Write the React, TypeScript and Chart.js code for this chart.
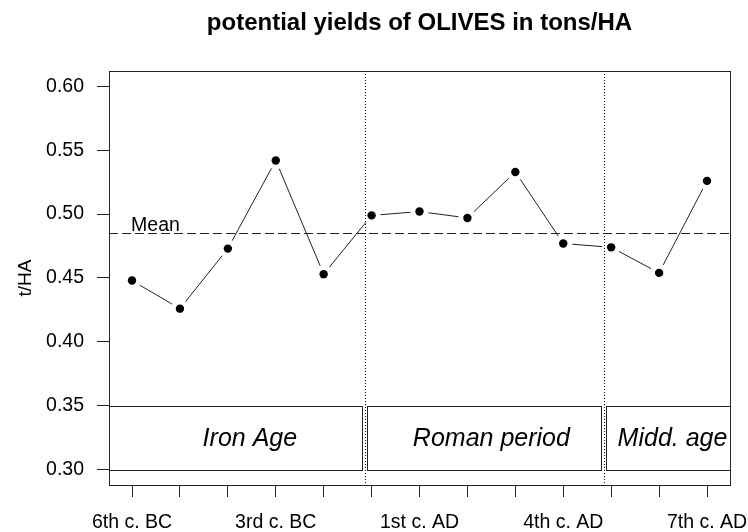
import React, { useEffect, useRef } from "react";
import { Chart, registerables } from "chart.js";

Chart.register(...registerables);

// ---------- data ----------
const centuries = [
  "6th c. BC", "5th c. BC", "4th c. BC", "3rd c. BC", "2nd c. BC", "1st c. BC",
  "1st c. AD", "2nd c. AD", "3rd c. AD", "4th c. AD", "5th c. AD", "6th c. AD", "7th c. AD",
];
const yields = [0.448, 0.426, 0.473, 0.542, 0.453, 0.499, 0.502, 0.497, 0.533, 0.477, 0.474, 0.454, 0.526];
const yTicks = [0.3, 0.35, 0.4, 0.45, 0.5, 0.55, 0.6];
const periodNames = ["Iron Age", "Roman period", "Midd. age"];
const periodFrom = [0, 5.91, 10.9];
const periodTo = [5.8, 10.79, 14];
const periodLabelX = [3.46, 8.5, 12.28];
const periodBottom = 0.3;
const periodTop = 0.35;
const dividers = [5.855, 10.845];
const meanValue = yields.reduce((a, b) => a + b, 0) / yields.length;

const TITLE = "potential yields of OLIVES in tons/HA";
const FAMILY = "'Liberation Sans', Arial, Helvetica, sans-serif";
const INK = "#222";

const decorPlugin = {
  id: "decor",
  beforeDatasetsDraw(chart: any) {
    const { ctx, chartArea: a, scales } = chart;
    const xs = scales.x;
    const ys = scales.y;
    ctx.save();
    ctx.beginPath();
    ctx.rect(a.left, a.top, a.right - a.left, a.bottom - a.top);
    ctx.clip();

    // period boxes
    ctx.strokeStyle = INK;
    ctx.lineWidth = 1;
    ctx.setLineDash([]);
    const yT = Math.round(ys.getPixelForValue(periodTop)) + 0.5;
    const yB = Math.round(ys.getPixelForValue(periodBottom)) + 0.5;
    for (let i = 0; i < periodNames.length; i++) {
      const x0 = Math.round(xs.getPixelForValue(periodFrom[i])) + 0.5;
      const x1 = Math.round(xs.getPixelForValue(periodTo[i])) + 0.5;
      ctx.strokeRect(x0, yT, x1 - x0, yB - yT);
      ctx.fillStyle = "#000";
      ctx.font = `italic 25px ${FAMILY}`;
      ctx.textAlign = "center";
      ctx.textBaseline = "middle";
      ctx.fillText(
        periodNames[i],
        xs.getPixelForValue(periodLabelX[i]),
        ys.getPixelForValue((periodTop + periodBottom) / 2) + 1
      );
    }

    // dividers (dotted)
    ctx.setLineDash([1, 2]);
    ctx.strokeStyle = "#000";
    for (const d of dividers) {
      const x = Math.round(xs.getPixelForValue(d)) + 0.5;
      ctx.beginPath();
      ctx.moveTo(x, a.top);
      ctx.lineTo(x, a.bottom);
      ctx.stroke();
    }

    // mean line (dashed)
    ctx.setLineDash([9, 4]);
    ctx.strokeStyle = INK;
    const ym = Math.round(ys.getPixelForValue(meanValue)) + 0.5;
    ctx.beginPath();
    ctx.moveTo(a.left, ym);
    ctx.lineTo(a.right, ym);
    ctx.stroke();
    ctx.setLineDash([]);
    ctx.fillStyle = "#000";
    ctx.font = `19.5px ${FAMILY}`;
    ctx.textAlign = "left";
    ctx.textBaseline = "alphabetic";
    ctx.fillText("Mean", xs.getPixelForValue(0.98), ym - 2.5);

    // segments with gaps (type "b")
    const meta = chart.getDatasetMeta(0);
    const gap = 9;
    ctx.strokeStyle = INK;
    ctx.lineWidth = 1;
    for (let i = 0; i < meta.data.length - 1; i++) {
      const p0 = meta.data[i];
      const p1 = meta.data[i + 1];
      const dx = p1.x - p0.x;
      const dy = p1.y - p0.y;
      const len = Math.hypot(dx, dy);
      if (len <= 2 * gap) continue;
      const ux = dx / len;
      const uy = dy / len;
      ctx.beginPath();
      ctx.moveTo(p0.x + ux * gap, p0.y + uy * gap);
      ctx.lineTo(p1.x - ux * gap, p1.y - uy * gap);
      ctx.stroke();
    }
    ctx.restore();

    // plot box
    ctx.save();
    ctx.strokeStyle = INK;
    ctx.lineWidth = 1;
    ctx.strokeRect(
      Math.round(a.left) + 0.5,
      Math.round(a.top) + 0.5,
      Math.round(a.right) - Math.round(a.left),
      Math.round(a.bottom) - Math.round(a.top)
    );
    // title
    ctx.fillStyle = "#000";
    ctx.font = `bold 24px ${FAMILY}`;
    ctx.textAlign = "center";
    ctx.textBaseline = "middle";
    ctx.fillText(TITLE, (a.left + a.right) / 2, 23);
    ctx.restore();
  },
};

export default function App() {
  const ref = useRef<HTMLCanvasElement | null>(null);

  useEffect(() => {
    document.body.style.margin = "0";
    if (!ref.current) return;
    const tickFont = { family: FAMILY, size: 19.5 };
    const chart = new Chart(ref.current, {
      type: "line",
      data: {
        datasets: [
          {
            data: yields.map((v, i) => ({ x: i + 1, y: v })),
            showLine: false,
            pointRadius: 4.2,
            pointBackgroundColor: "#000",
            pointBorderColor: "#000",
            pointBorderWidth: 0,
          },
        ],
      },
      options: {
        animation: false,
        responsive: false,
        devicePixelRatio: 1,
        events: [],
        layout: { padding: { left: 0, right: 18, top: 71, bottom: 0 } },
        plugins: {
          legend: { display: false },
          tooltip: { enabled: false },
          title: { display: false },
        },
        scales: {
          x: {
            type: "linear",
            min: 0.52,
            max: 13.48,
            afterBuildTicks: (s: any) => {
              s.ticks = centuries.map((_, i) => ({ value: i + 1 }));
            },
            afterFit: (s: any) => {
              s.height = 47;
              s.paddingLeft = 0;
              s.paddingRight = 0;
            },
            ticks: {
              autoSkip: false,
              maxRotation: 0,
              minRotation: 0,
              padding: 14,
              color: "#000",
              font: tickFont,
              callback: (v: any) => {
                const idx = Math.round(Number(v)) - 1;
                return idx % 3 === 0 ? centuries[idx] : "";
              },
            },
            grid: { drawOnChartArea: false, drawTicks: true, tickLength: 12, color: INK },
            border: { display: false },
          },
          y: {
            type: "linear",
            min: 0.288,
            max: 0.612,
            afterBuildTicks: (s: any) => {
              s.ticks = yTicks.map((v) => ({ value: v }));
            },
            afterFit: (s: any) => {
              s.width = 109;
              s.paddingTop = 0;
              s.paddingBottom = 0;
            },
            ticks: {
              padding: 13,
              color: "#000",
              font: tickFont,
              callback: (v: any) => Number(v).toFixed(2),
            },
            grid: { drawOnChartArea: false, drawTicks: true, tickLength: 12, color: INK },
            border: { display: false },
            title: {
              display: true,
              text: "t/HA",
              color: "#000",
              font: { family: FAMILY, size: 19 },
              padding: { top: 14, bottom: 0 },
            },
          },
        },
      },
      plugins: [decorPlugin],
    });
    return () => chart.destroy();
  }, []);

  return (
    <div style={{ width: 748, height: 532 }}>
      <canvas ref={ref} width={748} height={532} style={{ display: "block" }} />
    </div>
  );
}
